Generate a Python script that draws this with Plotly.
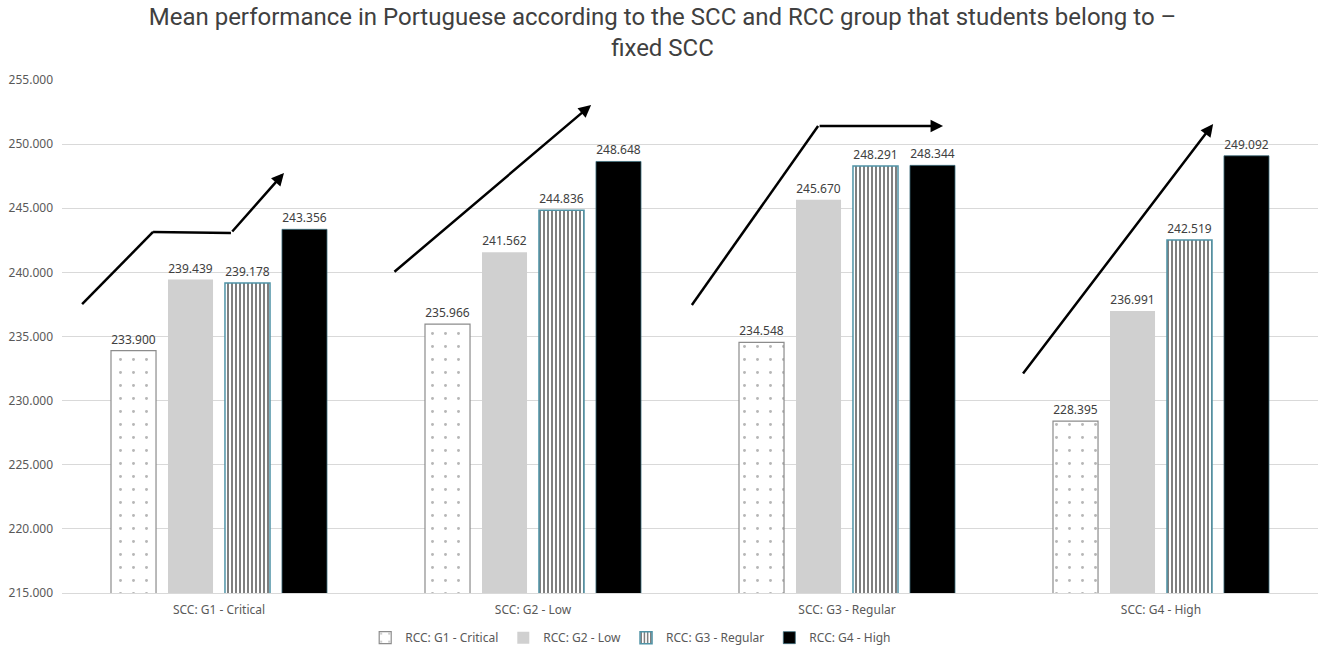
import plotly.graph_objects as go

# Categories (SCC groups) and RCC series values
scc_groups = ['SCC: G1 - Critical', 'SCC: G2 - Low', 'SCC: G3 - Regular', 'SCC: G4 - High']
rcc_names = ['RCC: G1 - Critical', 'RCC: G2 - Low', 'RCC: G3 - Regular', 'RCC: G4 - High']
rcc_g1 = [233.900, 235.966, 234.548, 228.395]
rcc_g2 = [239.439, 241.562, 245.670, 236.991]
rcc_g3 = [239.178, 244.836, 248.291, 242.519]
rcc_g4 = [243.356, 248.648, 248.344, 249.092]

# Trend arrows drawn over each group (x in category units, y in data units)
arrow_paths = [
    [(-0.436, 237.53), (-0.210, 243.15), (0.038, 243.07), (0.207, 247.75)],
    [(0.554, 239.95), (1.185, 253.05)],
    [(1.506, 237.46), (1.908, 251.41), (2.306, 251.41)],
    [(2.557, 232.0), (3.166, 251.57)],
]

series = [rcc_g1, rcc_g2, rcc_g3, rcc_g4]
styles = [
    dict(color='white', line=dict(color='#8c8c8c', width=1.2),
         pattern=dict(shape='.', fgcolor='#6e6e6e', bgcolor='white', size=13, solidity=0.04)),
    dict(color='#d0d0d0', line=dict(color='#d0d0d0', width=0)),
    dict(color='white', line=dict(color='#4f93a6', width=1.5),
         pattern=dict(shape='|', fgcolor='#000000', bgcolor='white', size=4, solidity=0.5)),
    dict(color='#000000', line=dict(color='#3d6f7d', width=0.8)),
]

fig = go.Figure()
for name, vals, st in zip(rcc_names, series, styles):
    fig.add_trace(go.Bar(
        x=scc_groups,
        y=vals,
        name=name,
        marker=st,
        text=[f'{v:.3f}' for v in vals],
        textposition='outside',
        textfont=dict(size=12, color='#404040'),
        cliponaxis=False,
    ))

# arrows: line segments plus an arrowhead on the last segment
for path in arrow_paths:
    for (x0, y0), (x1, y1) in zip(path[:-2], path[1:-1]):
        fig.add_shape(type='line', x0=x0, y0=y0, x1=x1, y1=y1,
                      xref='x', yref='y', line=dict(color='black', width=2.5))
    (xa, ya), (xb, yb) = path[-2], path[-1]
    fig.add_annotation(x=xb, y=yb, ax=xa, ay=ya, xref='x', yref='y',
                       axref='x', ayref='y', showarrow=True, text='',
                       arrowhead=2, arrowsize=1, arrowwidth=2.5, arrowcolor='black')

fig.update_layout(
    title=dict(
        text='Mean performance in Portuguese according to the SCC and RCC group that students belong to –<br>fixed SCC',
        x=0.5, xanchor='center', xref='container',
        y=0.962, yanchor='middle', yref='container',
        font=dict(family='Roboto, sans-serif', size=24, color='#404040'),
    ),
    barmode='group',
    bargap=0.274,
    bargroupgap=0.21,
    width=1325,
    height=654,
    margin=dict(l=62, r=7, t=80, b=61, autoexpand=False),
    plot_bgcolor='white',
    paper_bgcolor='white',
    font=dict(family='Noto Sans, Liberation Sans, sans-serif', color='#595959', size=12),
    showlegend=True,
    legend=dict(orientation='h', x=0.476, xanchor='center', xref='container',
                y=0.025, yanchor='middle', yref='container',
                font=dict(size=12, color='#595959'), itemwidth=30),
    xaxis=dict(showline=True, linecolor='#d9d9d9', linewidth=1, ticks='',
               tickfont=dict(size=12, color='#595959'), ticklabelstandoff=6),
    yaxis=dict(range=[215, 255], dtick=5, tickformat='.3f', showgrid=True,
               gridcolor='#d9d9d9', gridwidth=1, zeroline=False, ticks='',
               tickfont=dict(size=12, color='#595959'), ticklabelstandoff=8),
)

# drop the default page margin so the figure sits at the window's corner
fig.write_html('out.html', config={'displayModeBar': False},
               post_script="document.body.style.margin='0';")
